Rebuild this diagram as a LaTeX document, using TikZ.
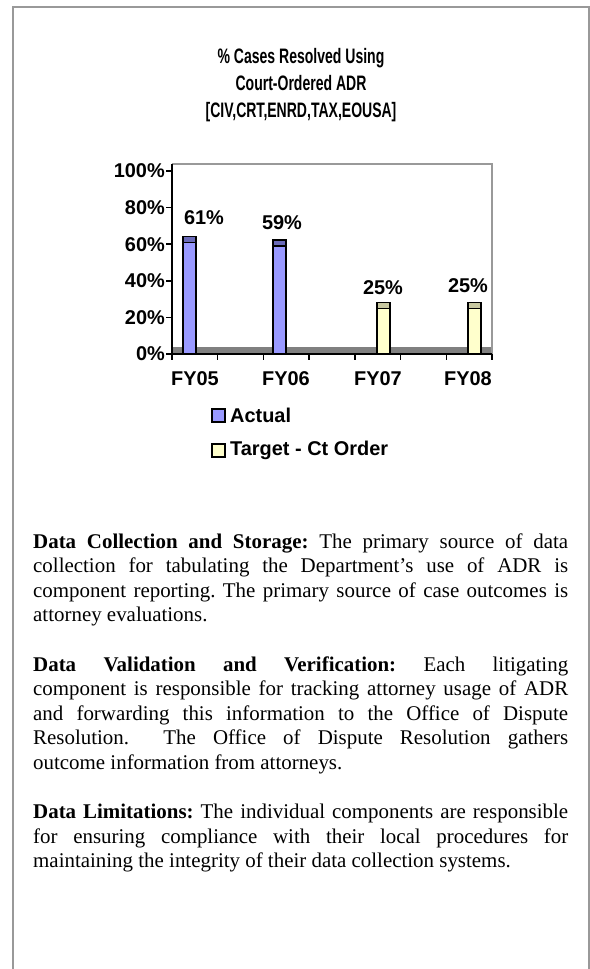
\documentclass[tikz,border=0pt]{standalone}
\usepackage{fontspec}
\setmainfont{Liberation Serif}
\newfontfamily\chartfont{Liberation Sans}
\newfontfamily\titlefont[FakeStretch=0.67]{Liberation Sans}
\definecolor{framegray}{HTML}{999999}
\definecolor{actualblue}{HTML}{9999FF}
\definecolor{actualtop}{HTML}{6A6AB8}
\definecolor{targetyellow}{HTML}{FFFFCC}
\definecolor{targettop}{HTML}{C8C8A0}
\definecolor{floorgray}{HTML}{808080}
\frenchspacing
\begin{document}
\begin{tikzpicture}[x=1bp,y=-1bp,
  lbl/.style={font=\chartfont\bfseries\fontsize{20}{23}\selectfont, inner sep=0pt},
  para/.style={anchor=north west, inner sep=0pt, text width=535bp, align=justify, font=\fontsize{21}{24.6}\selectfont}]
  \useasboundingbox (0,0) rectangle (590,969);
  % outer frame, open at the bottom
  \draw[framegray, line width=2bp] (13,969) -- (13,7) -- (589,7) -- (589,969);
  \node[font=\titlefont\bfseries\fontsize{21}{27}\selectfont, align=center, inner sep=0pt, anchor=north] (title) at (301,48)
    {\% Cases Resolved Using\\Court-Ordered ADR\\{[CIV,CRT,ENRD,TAX,EOUSA]}};
  % floor and plot area
  \fill[floorgray] (172,347) rectangle (492,354);
  \draw[framegray, line width=2bp] (172,164) -- (492,164) -- (492,354);
  \draw[line width=1.5bp] (172,164) -- (172,354) -- (492,354);
  % value axis
  \foreach \v [count=\n] in {0,20,...,100} {
    \draw[line width=1.5bp] (166,{354-1.83*\v}) -- (172,{354-1.83*\v});
    \node[lbl, anchor=east] (ylab\n) at (165,{354-1.83*\v}) {\v\%};
  }
  % category axis
  \foreach \k in {0,...,7} {
    \draw[line width=1.5bp] ({172+45.71*\k},354) -- ({172+45.71*\k},360);
  }
  \foreach \fy/\xc [count=\n] in {FY05/195,FY06/286,FY07/378,FY08/468} {
    \node[lbl] (fy\n) at (\xc,379) {\fy};
  }
  % bars
  \foreach \xa/\val/\fillc/\topc in {183/61/actualblue/actualtop,273/59/actualblue/actualtop,377/25/targetyellow/targettop,468/25/targetyellow/targettop} {
    \pgfmathsetmacro{\ytop}{354-1.83*\val}
    \filldraw[fill=\fillc, line width=1.5bp] (\xa,354) rectangle (\xa+13,\ytop);
    \filldraw[fill=\topc, line width=1.5bp] (\xa,\ytop) rectangle (\xa+13,\ytop-6);
  }
  % data labels
  \foreach \t/\xc/\yc [count=\n] in {61/204/218,59/282/223,25/383/288,25/468/286} {
    \node[lbl] (val\n) at (\xc,\yc) {\t\%};
  }
  % legend
  \filldraw[fill=actualblue, line width=1.5bp] (212,409) rectangle (225,422);
  \node[lbl, anchor=west] (leg1) at (230,415) {Actual};
  \filldraw[fill=targetyellow, line width=1.5bp] (212,444) rectangle (225,457);
  \node[lbl, anchor=west] (leg2) at (230,450) {Target - Ct Order};
  % text below the chart
  \node[para] (p1) at (33,533.5) {\textbf{Data Collection and Storage:} The primary source of data\linebreak
    collection for tabulating the Department's use of ADR is\linebreak
    component reporting. The primary source of case outcomes is\linebreak
    attorney evaluations.};
  \node[para] (p2) at (33,656.5) {\textbf{Data Validation and Verification:} Each litigating\linebreak
    component is responsible for tracking attorney usage of ADR\linebreak
    and forwarding this information to the Office of Dispute\linebreak
    Resolution.\ \ The Office of Dispute Resolution gathers\linebreak
    outcome information from attorneys.};
  \node[para] (p3) at (33,804) {\textbf{Data Limitations:} The individual components are responsible\linebreak
    for ensuring compliance with their local procedures for\linebreak
    maintaining the integrity of their data collection systems.};
\end{tikzpicture}
\end{document}
